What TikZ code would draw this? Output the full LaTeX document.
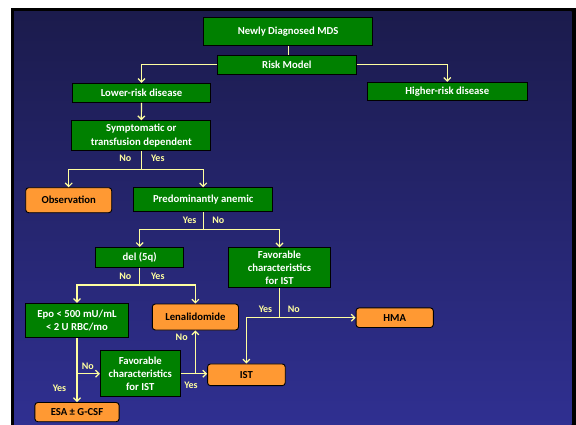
\documentclass[tikz,border=0pt]{standalone}
\usepackage{fontspec}
\setmainfont{Carlito}
\usetikzlibrary{arrows.meta}
\definecolor{boxgreen}{RGB}{0,128,0}
\definecolor{boxorange}{RGB}{255,153,51}
\definecolor{linkyellow}{RGB}{255,255,160}
\definecolor{bgtop}{RGB}{27,27,76}
\definecolor{bgbottom}{RGB}{48,48,146}
\begin{document}
\begin{tikzpicture}[x=1pt,y=-1pt,
  gbox/.style={draw=black, line width=0.9pt, fill=boxgreen, text=white,
    font=\bfseries\fontsize{10.7}{13.2}\selectfont, align=center, inner sep=0pt},
  obox/.style={gbox, fill=boxorange, text=black, rounded corners=3pt},
  link/.style={draw=linkyellow, line width=1.2pt},
  arr/.style={link, -{Straight Barb[length=3.5pt,width=7pt]}},
  lbl/.style={text=linkyellow, font=\bfseries\fontsize{10}{12}\selectfont, inner sep=0pt}]
\useasboundingbox (0,0) rectangle (576,424);
\clip (0,0) rectangle (576,424);
% slide frame and background
\fill[white] (0,0) rectangle (576,424);
\fill[black] (11,8) rectangle (590,440);
\shade[top color=bgtop, bottom color=bgbottom] (14,11) rectangle (571.7,430);

% boxes
\node[gbox, minimum width=169pt, minimum height=28pt] (mds) at (288.1,31.7) {Newly Diagnosed MDS};
\node[gbox, minimum width=139pt, minimum height=19pt] (risk) at (286.9,64.5) {Risk Model};
\node[gbox, minimum width=138.4pt, minimum height=19pt] (lower) at (141.5,92.8) {Lower-risk disease};
\node[gbox, minimum width=160pt, minimum height=18.5pt] (higher) at (447.3,91.5) {Higher-risk disease};
\node[gbox, minimum width=139pt, minimum height=29.8pt] (sympt) at (141.3,135.6) {Symptomatic or\\transfusion dependent};
\node[obox, minimum width=86pt, minimum height=25pt] (obs) at (68.7,200.2) {Observation};
\node[gbox, minimum width=139pt, minimum height=24pt] (anemic) at (203.2,199.7) {Predominantly anemic};
\node[gbox, minimum width=88pt, minimum height=19.7pt] (del) at (139.7,257.2) {del (5q)};
\node[gbox, minimum width=102.4pt, minimum height=40pt] (favA) at (279.5,267.7) {Favorable\\characteristics\\for IST};
\node[gbox, minimum width=103.3pt, minimum height=34.4pt] (epo) at (77,320.5) {Epo < 500 mU/mL\\< 2 U RBC/mo};
\node[obox, minimum width=86.2pt, minimum height=26pt] (lena) at (195.4,317) {Lenalidomide};
\node[obox, minimum width=77.3pt, minimum height=19.6pt] (hma) at (394.7,317.7) {HMA};
\node[gbox, minimum width=80pt, minimum height=46pt] (favB) at (140.3,373.7) {Favorable\\characteristics\\for IST};
\node[obox, minimum width=77.7pt, minimum height=21.7pt] (ist) at (246.4,374.8) {IST};
\node[obox, minimum width=84.3pt, minimum height=19.2pt] (esa) at (77,412.1) {ESA ± G-CSF};

% branch points
\coordinate (s1) at (141.3,169.3);
\coordinate (a1) at (203.2,229.3);
\coordinate (d1) at (139.7,285);
\coordinate (f1) at (279.5,317.7);
\coordinate (e1) at (epo.south |- favB.west);
\coordinate (g1) at (lena.south |- favB.east);

% connectors
\draw[link] (mds.south) -- (mds.south |- risk.north);
\draw[arr] (risk.west) -| (lower.north);
\draw[arr] (risk.east) -| (higher.north);
\draw[arr] (lower.south) -- (sympt.north);
\draw[link] (sympt.south) -- (s1);
\draw[arr] (s1) -| (obs.north);
\draw[arr] (s1) -| (anemic.north);
\draw[link] (anemic.south) -- (a1);
\draw[arr] (a1) -| (del.north);
\draw[arr] (a1) -| (favA.north);
\draw[link] (del.south) -- (d1);
\draw[arr] (d1) -| (epo.north);
\draw[arr] (d1) -| (lena.north);
\draw[link] (favA.south) -- (f1);
\draw[arr] (f1) -- (f1 -| hma.west);
\draw[arr] (f1) -| (ist.north);
\draw[arr] (epo.south) -- (epo.south |- esa.north);
\draw[arr] (e1) -- (favB.west);
\draw[arr] (favB.east) -- (favB.east -| ist.west);
\draw[arr] (g1) -- (lena.south);

% branch labels
\node[lbl] (l1) at (125.3,158.3) {No};
\node[lbl] (l2) at (157.8,158.3) {Yes};
\node[lbl] (l3) at (189.7,220.7) {Yes};
\node[lbl] (l4) at (218.3,220.7) {No};
\node[lbl] (l5) at (125.3,276.7) {No};
\node[lbl] (l6) at (157.8,276.7) {Yes};
\node[lbl] (l7) at (265.5,309.3) {Yes};
\node[lbl] (l8) at (293.8,309.3) {No};
\node[lbl] (l9) at (87.8,366) {No};
\node[lbl] (l10) at (59.5,388.7) {Yes};
\node[lbl] (l11) at (181.7,337.7) {No};
\node[lbl] (l12) at (191,385) {Yes};
\end{tikzpicture}
\end{document}
